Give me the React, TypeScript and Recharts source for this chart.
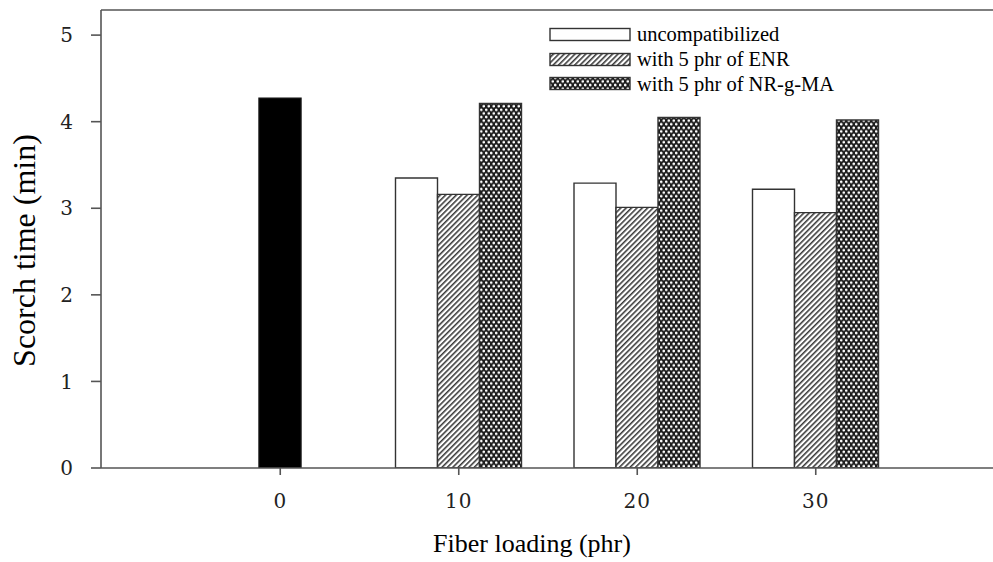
import React from 'react';
import { BarChart, Bar, XAxis, YAxis, ReferenceLine, Legend } from 'recharts';

// Fiber loading levels (phr) and scorch times (min) for each compound
const loadings = ['0', '10', '20', '30'];
const control = [4.27, null, null, null];
const uncompatibilized = [null, 3.35, 3.29, 3.22];
const withENR = [null, 3.16, 3.01, 2.95];
const withNRgMA = [null, 4.21, 4.05, 4.02];

const yTicks = [0, 1, 2, 3, 4, 5];
const Y_MAX = 5.29;

const seriesNames = ['uncompatibilized', 'with 5 phr of ENR', 'with 5 phr of NR-g-MA'];
const seriesFills = ['#ffffff', 'url(#hatchFill)', 'url(#crossFill)'];

const data = loadings.map((loading, i) => ({
  loading,
  control: control[i],
  uncomp: uncompatibilized[i],
  enr: withENR[i],
  nrgma: withNRgMA[i],
}));

const SERIF = '"Liberation Serif", "Times New Roman", serif';
const TICK_FONT = '"DejaVu Serif", serif';
const AXIS_COLOR = '#555';
const BAR_STROKE = '#333';

const renderLegend = () => (
  <div style={{ fontFamily: SERIF, fontSize: 20.5, color: '#000', lineHeight: 1 }}>
    {seriesNames.map((name, i) => (
      <div key={name} style={{ display: 'flex', alignItems: 'center', height: 24.75 }}>
        <svg width={83} height={15} style={{ marginRight: 5, display: 'block' }}>
          <rect x={1} y={1.5} width={80} height={12} fill={seriesFills[i]} stroke={BAR_STROKE} strokeWidth={1.4} />
        </svg>
        <span style={{ whiteSpace: 'nowrap' }}>{name}</span>
      </div>
    ))}
  </div>
);

const YTitle = (props: any) => {
  const vb = props.viewBox;
  const cx = vb.x + 35;
  const cy = vb.y + vb.height / 2 + 11.5;
  return (
    <text
      x={cx}
      y={cy}
      transform={`rotate(-90 ${cx} ${cy})`}
      textAnchor="middle"
      fontFamily={SERIF}
      fontSize={32}
      fill="#000"
    >
      Scorch time (min)
    </text>
  );
};

const XTitle = (props: any) => {
  const vb = props.viewBox;
  return (
    <text
      x={vb.x + vb.width / 2 - 15}
      y={vb.y + 84}
      textAnchor="middle"
      fontFamily={SERIF}
      fontSize={26}
      fill="#000"
    >
      Fiber loading (phr)
    </text>
  );
};

export default function App() {
  return (
    <div style={{ position: 'absolute', left: 0, top: 0, width: 993, height: 562, background: '#fff' }}>
      <BarChart
        width={993}
        height={562}
        data={data}
        margin={{ top: 10, right: 0, bottom: 0, left: 0 }}
        barGap={0}
        barSize={42}
      >
        <defs>
          <pattern id="hatchFill" width="3.8" height="3.8" patternUnits="userSpaceOnUse" patternTransform="rotate(45)">
            <rect width="3.8" height="3.8" fill="#fff" />
            <line x1="0.8" y1="0" x2="0.8" y2="3.8" stroke="#222" strokeWidth="1.4" />
          </pattern>
          <pattern id="crossFill" width="5" height="7.2" patternUnits="userSpaceOnUse">
            <rect width="5" height="7.2" fill="#1c1c1c" />
            <circle cx="1.25" cy="1.8" r="1.35" fill="#fff" />
            <circle cx="3.75" cy="5.4" r="1.35" fill="#fff" />
          </pattern>
        </defs>
        <XAxis
          dataKey="loading"
          height={94}
          padding={{ left: 90, right: 88 }}
          tickSize={7}
          tickMargin={19}
          tick={{ fontFamily: TICK_FONT, fontSize: 20, fill: '#222', letterSpacing: 1 }}
          axisLine={{ stroke: AXIS_COLOR, strokeWidth: 1.6 }}
          tickLine={{ stroke: AXIS_COLOR, strokeWidth: 1.6 }}
          label={{ content: XTitle }}
        />
        <YAxis
          width={101}
          domain={[0, Y_MAX]}
          ticks={yTicks}
          allowDataOverflow
          tickSize={10}
          tickMargin={18}
          tick={{ fontFamily: TICK_FONT, fontSize: 20, fill: '#222' }}
          axisLine={{ stroke: AXIS_COLOR, strokeWidth: 1.6 }}
          tickLine={{ stroke: AXIS_COLOR, strokeWidth: 1.6 }}
          label={{ content: YTitle }}
        />
        <ReferenceLine y={Y_MAX} stroke={AXIS_COLOR} strokeWidth={1.6} />
        <Legend
          layout="vertical"
          align="center"
          verticalAlign="middle"
          wrapperStyle={{ left: 549, top: 22, width: 300 }}
          content={renderLegend}
        />
        <Bar dataKey="uncomp" stackId="left" fill={seriesFills[0]} stroke={BAR_STROKE} strokeWidth={1.4} isAnimationActive={false} />
        <Bar dataKey="control" stackId="mid" fill="#000" stroke="#111" strokeWidth={1.4} isAnimationActive={false} />
        <Bar dataKey="enr" stackId="mid" fill={seriesFills[1]} stroke={BAR_STROKE} strokeWidth={1.4} isAnimationActive={false} />
        <Bar dataKey="nrgma" stackId="right" fill={seriesFills[2]} stroke={BAR_STROKE} strokeWidth={1.4} isAnimationActive={false} />
      </BarChart>
    </div>
  );
}
